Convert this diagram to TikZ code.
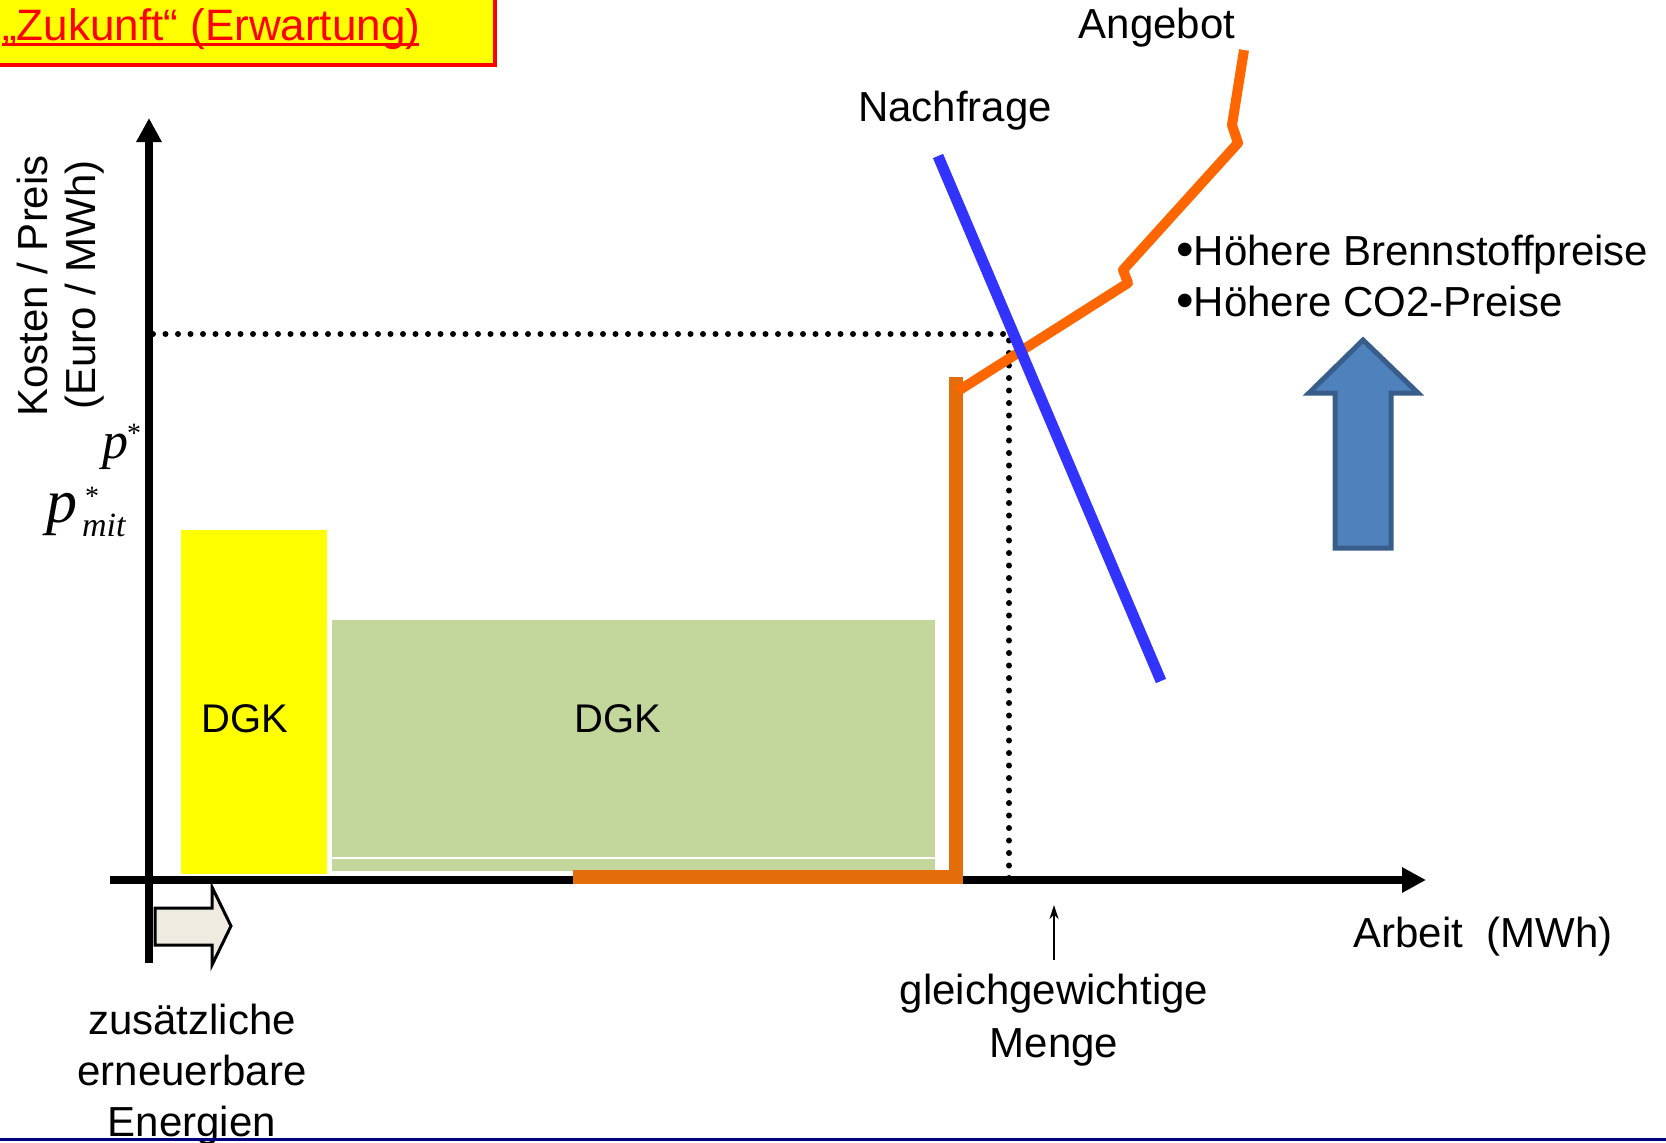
\documentclass[tikz,border=0pt]{standalone}
\usepackage{fontspec}
\setmainfont{Liberation Sans}
\newfontfamily\timesfont{Liberation Serif}
\usetikzlibrary{arrows.meta}
\definecolor{titlered}{RGB}{255,0,0}
\definecolor{dgkyellow}{RGB}{255,255,0}
\definecolor{dgkgreen}{RGB}{195,214,155}
\definecolor{demandblue}{RGB}{51,51,255}
\definecolor{supplyorange}{RGB}{255,102,0}
\definecolor{supplydark}{RGB}{228,108,10}
\definecolor{arrowfill}{RGB}{79,129,189}
\definecolor{arrowedge}{RGB}{56,93,138}
\definecolor{hollowfill}{RGB}{238,236,225}
\definecolor{navyline}{RGB}{0,0,128}
\newcommand{\bigbul}{\raisebox{-0.04em}{\fontsize{50bp}{50bp}\selectfont •}}
\newcommand{\smallstar}{{\upshape\fontsize{28bp}{30bp}\selectfont *}}
\begin{document}
\begin{tikzpicture}[x=1bp,y=-1bp,
  lbl/.style={font=\fontsize{42bp}{50bp}\selectfont, inner sep=0pt},
  dgk/.style={font=\fontsize{40bp}{48bp}\selectfont, inner sep=0pt},
  axis/.style={line width=8bp, -{Triangle[length=24bp,width=24bp]}},
  dotline/.style={line width=6bp, line cap=round, dash pattern=on 0bp off 12.5bp},
  mathit/.style={font=\timesfont\itshape, inner sep=0pt}]
\useasboundingbox (0,0) rectangle (1666,1142);
% title box
\fill[dgkyellow] (-5,-5) rectangle (495,65);
\draw[titlered, line width=4bp] (-5,-5) rectangle (495,65);
\node[anchor=base west, inner sep=0pt, text=titlered, font=\fontsize{44bp}{50bp}\selectfont] (title) at (2,40) {„Zukunft“ (Erwartung)};
\draw[titlered, line width=3bp] (title.base west) ++(0,4) -- ++(417,0);
% bars
\fill[dgkyellow] (181,530) rectangle (327,874);
\fill[dgkgreen] (332,620) rectangle (935,871);
\draw[white, line width=1.5bp] (332,858) -- (935,858);
\node[dgk] (dgk1) at (245,719) {DGK};
\node[dgk] (dgk2) at (618,719) {DGK};
% dotted guides
\coordinate (eq) at (1009,334);
\coordinate (pstar) at (153,334);
\coordinate (qstar) at (1009,880);
\draw[dotline] (pstar) -- (eq) -- (qstar);
% axes
\coordinate (yo) at (149,963);
\coordinate (ytop) at (149,118);
\coordinate (xo) at (110,880);
\coordinate (xend) at (1426,880);
\draw[axis] (yo) -- (ytop);
\draw[axis] (xo) -- (xend);
% supply curve
\coordinate (s0) at (573,877);
\coordinate (s1) at (956,877);
\coordinate (s2) at (956,377);
\draw[supplydark, line width=14bp] (s0) -- (s1) -- (s2);
\coordinate (a1) at (958,391);
\coordinate (a2) at (1128,283);
\coordinate (a3) at (1123,270);
\coordinate (a4) at (1238,143);
\coordinate (a5) at (1232,125);
\coordinate (a6) at (1244,50);
\draw[supplyorange, line width=10bp, line join=round] (a1) -- (a2) -- (a3) -- (a4) -- (a5) -- (a6);
% demand
\coordinate (d1) at (938,156);
\coordinate (d2) at (1161,681);
\draw[demandblue, line width=11bp] (d1) -- (d2);
% labels
\node[lbl] (angebot) at (1157,28) {Angebot};
\node[lbl] (nachfrage) at (955,111) {Nachfrage};
\node[lbl, anchor=base west] (b1) at (1176,265) {\bigbul Höhere Brennstoffpreise};
\node[lbl, anchor=base west] (b2) at (1176,316) {\bigbul Höhere CO2-Preise};
% blue arrow
\draw[arrowedge, fill=arrowfill, line width=5bp] (1363,340) -- (1418,393) -- (1391,393) -- (1391,548) -- (1335,548) -- (1335,393) -- (1309,393) -- cycle;
% y-axis labels
\node[lbl, rotate=90] (ylab1) at (32,286) {Kosten / Preis};
\node[lbl, rotate=90] (ylab2) at (85,285) {(Euro / MWh)};
% p* labels
\node[mathit, anchor=base west, font=\timesfont\itshape\fontsize{52bp}{56bp}\selectfont] (p1) at (102,458) {p\kern-1bp\raisebox{16bp}{\smallstar}};
\node[mathit, anchor=base west, font=\timesfont\itshape\fontsize{62bp}{66bp}\selectfont] (p2) at (46,522) {p\kern8bp\rlap{\raisebox{17bp}{\smallstar}}\kern-3bp\raisebox{-14bp}{\fontsize{34bp}{40bp}\selectfont mit}};
% hollow arrow
\draw[black, fill=hollowfill, line width=3bp, line join=miter] (155,908) -- (212,908) -- (212,887) -- (231,926) -- (212,965) -- (212,945) -- (155,945) -- cycle;
\node[lbl, align=center] (ee) at (192,1075) {zusätzliche\\[1bp]erneuerbare\\[1bp]Energien};
% equilibrium quantity
\coordinate (qtail) at (1054,960);
\coordinate (qtip) at (1054,905);
\draw[line width=2.5bp, -{Stealth[length=14bp,width=9bp]}] (qtail) -- (qtip);
\node[lbl, align=center] (gm) at (1054,1020) {gleichgewichtige\\[3bp]Menge};
\node[lbl] (arbeit) at (1483,937) {Arbeit\ \ (MWh)};
% bottom rule
\draw[navyline, line width=3bp] (0,1139) -- (1666,1139);
\end{tikzpicture}
\end{document}
